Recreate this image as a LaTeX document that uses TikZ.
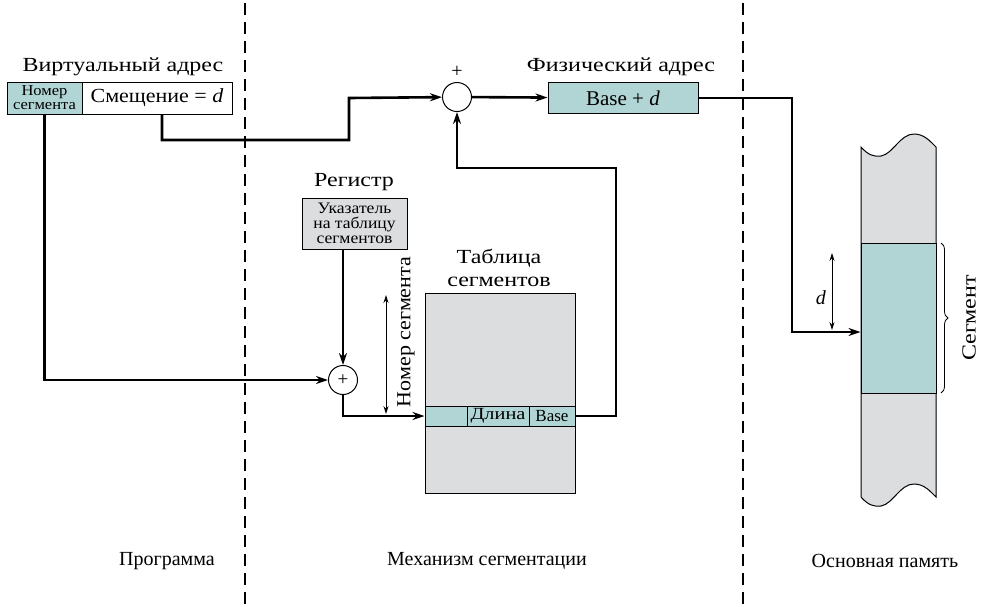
\documentclass[tikz,border=0pt]{standalone}
\usepackage{fontspec}
\setmainfont{Liberation Serif}
\newfontfamily\widefont[FakeStretch=1.2]{Liberation Serif}
\newfontfamily\midfont[FakeStretch=1.1]{Liberation Serif}
\usetikzlibrary{arrows.meta,decorations.pathreplacing,calc}
\definecolor{teal1}{RGB}{177,212,212}
\definecolor{gray1}{RGB}{220,221,223}
\begin{document}
\begin{tikzpicture}[x=1pt,y=-1pt,
  wire/.style={line width=2.6pt, -{Stealth[length=12pt,width=8pt]}},
  thinarrow/.style={line width=0.8pt, {Stealth[length=8pt,width=5pt]}-{Stealth[length=8pt,width=5pt]}},
  box/.style={draw, line width=1pt, inner sep=0pt},
  lbl/.style={font=\fontsize{20}{22}\selectfont},
  wlbl/.style={font=\widefont\fontsize{20}{23}\selectfont},
  mlbl/.style={font=\midfont\fontsize{20}{22}\selectfont},
  divider/.style={line width=2.5pt, dash pattern=on 12pt off 7pt},
  adder/.style={circle, draw, line width=1pt, fill=white, minimum size=29pt, inner sep=0pt}]
\useasboundingbox (0,0) rectangle (995,606);

% dividers
\draw[divider] (245,3) -- (245,604);
\draw[divider] (743,3) -- (743,604);

% virtual address
\node[wlbl] (vlabel) at (123,67) {Виртуальный адрес};
\node[box, fill=teal1, minimum width=75pt, minimum height=32pt, align=center,
      font=\midfont\fontsize{15}{15}\selectfont] (num) at (44.5,98) {Номер\\[-1pt]сегмента};
\node[box, fill=white, minimum width=150pt, minimum height=32pt, mlbl] (off) at (157,98) {Смещение = \textit{d}};

% top adder
\node[adder] (add1) at (457,97) {};
\node[lbl] (plus1) at (457,72) {+};

% physical address
\node[wlbl] (plabel) at (621,67) {Физический адрес};
\node[box, fill=teal1, minimum width=150pt, minimum height=31pt, font=\fontsize{21}{22}\selectfont] (phys) at (623,98) {Base + \textit{d}};

% register
\node[wlbl] (rlabel) at (354,182) {Регистр};
\node[box, fill=gray1, minimum width=105pt, minimum height=51pt, align=center,
      font=\midfont\fontsize{16}{16}\selectfont] (reg) at (354.5,223.5) {Указатель\\[-1pt]на таблицу\\[-1pt]сегментов};

% lower adder
\node[adder] (add2) at (343,380) {\fontsize{19}{19}\selectfont +};

% segment table
\node[wlbl, align=center] (tlabel) at (499,268) {Таблица\\сегментов};
\node[box, fill=gray1, minimum width=150pt, minimum height=200pt] (tab) at (500,393) {};
\node[box, fill=teal1, minimum width=42pt, minimum height=20pt] (r1) at (446,416) {};
\node[box, fill=teal1, minimum width=62pt, minimum height=20pt, font=\widefont\fontsize{17}{17}\selectfont] (r2) at (498,416) {Длина};
\node[box, fill=teal1, minimum width=46pt, minimum height=20pt, font=\fontsize{17}{17}\selectfont] (r3) at (552,416) {Base};

% segment number range
\coordinate (nt) at (386,295);
\coordinate (nb) at (386,414);
\draw[thinarrow] (nt) -- (nb);
\node[mlbl, rotate=90] (nlabel) at (406,332) {Номер сегмента};

% main memory
\draw[line width=1pt, fill=gray1]
  (861,147) .. controls (868,155) and (874,157) .. (881,156)
  .. controls (893,154) and (900,134) .. (914,134)
  .. controls (924,134) and (930,141) .. (936,147)
  -- (936,497)
  .. controls (930,491) and (924,484) .. (914,484)
  .. controls (900,484) and (893,504) .. (881,506)
  .. controls (874,507) and (868,505) .. (861,497) -- cycle;
\node[box, fill=teal1, minimum width=75pt, minimum height=150pt] (seg) at (898.5,318) {};
\draw[decorate, decoration={brace, amplitude=7pt}, line width=0.8pt] (941,243) -- (941,393);
\node[wlbl, rotate=90] (slabel) at (969,318) {Сегмент};
\coordinate (dt) at (832,253);
\coordinate (db) at (832,330);
\draw[thinarrow] (dt) -- (db);
\node[lbl] (dlabel) at (821,298) {\textit{d}};

% connectors
\coordinate (c1) at (162,140);
\coordinate (c2) at (349,98);
\draw[wire] (off.south -| c1) -- (c1) -| (c2) -- (add1);
\draw[wire] (add1) -- (phys);
\coordinate (m1) at (792,332);
\draw[wire] (phys.east) -| (m1) -- (seg.west |- m1);
\draw[wire] (reg.south -| add2) -- (add2);
\draw[wire] (num.south) |- (add2.west);
\draw[wire] (add2.south) |- (r1.west);
\coordinate (c4) at (616,168);
\draw[wire] (r3.east) -| (c4) -| (add1.south);

% bottom labels
\node[lbl] (prog) at (167,561) {Программа};
\node[lbl] (mech) at (487,561) {Механизм сегментации};
\node[lbl] (mem) at (885,561) {Основная память};
\end{tikzpicture}
\end{document}
